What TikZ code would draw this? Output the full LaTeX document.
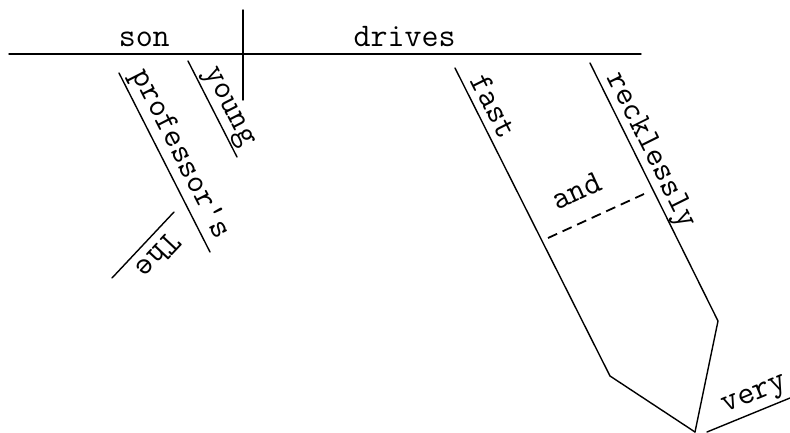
\documentclass[tikz,border=0pt]{standalone}
\usepackage{fontspec}
\newcommand\wordfont{\ttfamily\fontsize{33}{34}\selectfont}

\begin{document}
\begin{tikzpicture}[
    x=1pt, y=-1pt,
    rule/.style={line width=1.4pt, line cap=round},
    linkrule/.style={line width=1.8pt, dash pattern=on 10pt off 6pt},
    word/.style={font=\wordfont, inner sep=0pt, text depth=0pt},
  ]
    \useasboundingbox (0,0) rectangle (790,433);

    % subject | predicate
    \coordinate (baseL) at (9,54);
    \coordinate (baseR) at (641,54);
    \coordinate (divTop) at (243,10);
    \coordinate (divBot) at (243,100);

    % modifiers of the subject
    \coordinate (profTop) at (119,73);
    \coordinate (profBot) at (210,252);
    \coordinate (theTop) at (174,212);
    \coordinate (theBot) at (112,278);
    \coordinate (youngTop) at (188,61);
    \coordinate (youngBot) at (237,157);

    % compound adverb
    \coordinate (fastTop) at (455,68);
    \coordinate (fastBend) at (610,376);
    \coordinate (reckTop) at (590,63);
    \coordinate (reckBend) at (718,321);
    \coordinate (meet) at (695,432);
    \coordinate (andL) at (548,238);
    \coordinate (andR) at (644,194);
    \coordinate (veryL) at (707,432);
    \coordinate (veryR) at (790,398);

    \draw[rule] (baseL) --
      node[word, pos=0.214, above=7pt] (son) {son}
      node[word, pos=0.626, above=7pt] (drives) {drives} (baseR);
    \draw[rule] (divTop) -- (divBot);

    \draw[rule] (profTop) -- node[word, sloped, above=10pt] (professor) {professor's} (profBot);
    \draw[rule] (theTop) -- node[word, sloped, allow upside down, pos=0.47, above=8pt] (the) {The} (theBot);
    \draw[rule] (youngTop) -- node[word, sloped, pos=0.55, above=9pt] (young) {young} (youngBot);

    \draw[rule] (fastTop) -- node[word, sloped, pos=0.15, above=7pt] (fast) {fast} (fastBend) -- (meet);
    \draw[rule] (reckTop) -- node[word, sloped, pos=0.366, above=8pt] (recklessly) {recklessly} (reckBend) -- (meet);
    \draw[linkrule] (andL) -- node[word, sloped, pos=0.43, above=20pt] (and) {and} (andR);
    \draw[rule] (veryL) -- node[word, sloped, pos=0.65, above=10pt] (very) {very} (veryR);
\end{tikzpicture}
\end{document}
